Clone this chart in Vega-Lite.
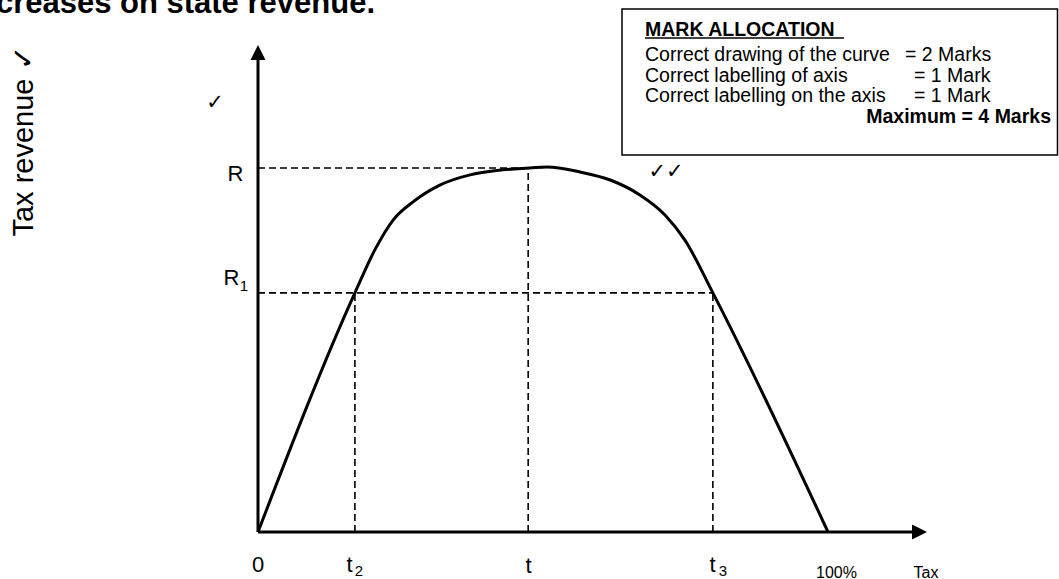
{
  "$schema": "https://vega.github.io/schema/vega-lite/v6.json",
  "width": 1059,
  "height": 579,
  "padding": 0,
  "autosize": {"type": "none"},
  "background": "white",
  "config": {"view": {"stroke": null}, "text": {"font": "Liberation Sans", "color": "black"}},
  "datasets": {
    "box": [{"x": 63.86, "x2": 140.26, "y": 143.68, "y2": 103.57}],
    "curve": [
      {"x": 0, "y": 0}, {"x": 17.0, "y": 65.7}, {"x": 20.5, "y": 77.5}, {"x": 23.7, "y": 85.7},
      {"x": 27.2, "y": 90.7}, {"x": 31.9, "y": 95.3}, {"x": 37.2, "y": 98.1}, {"x": 43.0, "y": 99.5},
      {"x": 47.7, "y": 100}, {"x": 50.7, "y": 100.3}, {"x": 56.5, "y": 98.9}, {"x": 61.8, "y": 96.7},
      {"x": 67.0, "y": 92.6}, {"x": 71.4, "y": 87.1}, {"x": 74.9, "y": 80.2}, {"x": 79.8, "y": 65.7},
      {"x": 100, "y": 0}
    ],
    "dashes": [
      {"x": 0, "x2": 47.4, "y": 100, "y2": 100},
      {"x": 47.4, "x2": 47.4, "y": 0, "y2": 100},
      {"x": 0, "x2": 79.8, "y": 65.7, "y2": 65.7},
      {"x": 17.0, "x2": 17.0, "y": 0, "y2": 65.7},
      {"x": 79.8, "x2": 79.8, "y": 0, "y2": 65.7}
    ],
    "axes": [
      {"x": 0, "x2": 0, "y": 0, "y2": 130.5},
      {"x": 0, "x2": 116.5, "y": 0, "y2": 0}
    ],
    "arrowUp": [{"x": 0, "y": 131.73}],
    "arrowRight": [{"x": 116.05, "y": 0}],
    "underline": [{"x": 67.895, "x2": 102.8, "y": 135.714, "y2": 135.714}],
    "mainLabels": [
      {"x": 0, "y": -9.066, "text": "0"},
      {"x": 16.053, "y": -9.066, "text": "t"},
      {"x": 47.456, "y": -9.478, "text": "t"},
      {"x": 79.737, "y": -9.066, "text": "t"},
      {"x": -3.947, "y": 98.352, "text": "R"},
      {"x": -4.649, "y": 69.643, "text": "R"}
    ],
    "subLabels": [
      {"x": 17.719, "y": -10.714, "text": "2"},
      {"x": 81.579, "y": -10.714, "text": "3"},
      {"x": -2.456, "y": 67.582, "text": "1"}
    ],
    "smallLabels": [
      {"x": 101.491, "y": -12.637, "text": "100%"},
      {"x": 117.193, "y": -12.637, "text": "Tax"}
    ],
    "title": [{"x": 20.526, "y": 142.582, "text": "creases on state revenue."}],
    "ylabel": [{"x": -39.474, "y": 107.28, "text": "Tax revenue ✓"}],
    "checks": [
      {"x": -7.544, "y": 117.857, "text": "✓"},
      {"x": 71.579, "y": 98.901, "text": "✓✓"}
    ],
    "boxHead": [{"x": 67.895, "y": 137.912, "text": "MARK ALLOCATION"}],
    "boxLines": [
      {"x": 67.895, "y": 131.044, "text": "Correct drawing of the curve"},
      {"x": 113.509, "y": 131.044, "text": "= 2 Marks"},
      {"x": 67.895, "y": 125.412, "text": "Correct labelling of axis"},
      {"x": 115.088, "y": 125.412, "text": "= 1 Mark"},
      {"x": 67.895, "y": 119.78, "text": "Correct labelling on the axis"},
      {"x": 115.088, "y": 119.78, "text": "= 1 Mark"}
    ],
    "boxMax": [{"x": 139.123, "y": 114.148, "text": "Maximum = 4 Marks"}]
  },
  "encoding": {
    "x": {"field": "x", "type": "quantitative", "axis": null, "scale": {"domain": [-45.2632, 140.5263], "nice": false, "zero": false}},
    "y": {"field": "y", "type": "quantitative", "axis": null, "scale": {"domain": [-12.9121, 146.1538], "nice": false, "zero": false}}
  },
  "layer": [
    {"data": {"name": "box"}, "mark": {"type": "rect", "fill": "white", "stroke": "black", "strokeWidth": 1.5},
     "encoding": {"x2": {"field": "x2"}, "y2": {"field": "y2"}}},
    {"data": {"name": "dashes"}, "mark": {"type": "rule", "color": "black", "strokeWidth": 1.6, "strokeDash": [7, 4]},
     "encoding": {"x2": {"field": "x2"}, "y2": {"field": "y2"}}},
    {"data": {"name": "curve"}, "mark": {"type": "line", "color": "black", "strokeWidth": 3, "interpolate": "monotone"},
     "encoding": {}},
    {"data": {"name": "axes"}, "mark": {"type": "rule", "color": "black", "strokeWidth": 3},
     "encoding": {"x2": {"field": "x2"}, "y2": {"field": "y2"}}},
    {"data": {"name": "arrowUp"}, "mark": {"type": "point", "shape": "M0,-1L1,1L-1,1Z", "size": 225, "filled": true, "color": "black", "opacity": 1, "strokeWidth": 0}},
    {"data": {"name": "arrowRight"}, "mark": {"type": "point", "shape": "M1,0L-1,-1L-1,1Z", "size": 225, "filled": true, "color": "black", "opacity": 1, "strokeWidth": 0}},
    {"data": {"name": "underline"}, "mark": {"type": "rule", "color": "black", "strokeWidth": 1.5},
     "encoding": {"x2": {"field": "x2"}, "y2": {"field": "y2"}}},
    {"data": {"name": "mainLabels"}, "mark": {"type": "text", "fontSize": 22, "align": "center", "baseline": "middle"},
     "encoding": {"text": {"field": "text"}}},
    {"data": {"name": "subLabels"}, "mark": {"type": "text", "fontSize": 15, "align": "center", "baseline": "middle"},
     "encoding": {"text": {"field": "text"}}},
    {"data": {"name": "smallLabels"}, "mark": {"type": "text", "fontSize": 16, "align": "center", "baseline": "alphabetic"},
     "encoding": {"text": {"field": "text"}}},
    {"data": {"name": "title"}, "mark": {"type": "text", "fontSize": 31, "fontWeight": "bold", "align": "right", "baseline": "alphabetic"},
     "encoding": {"text": {"field": "text"}}},
    {"data": {"name": "ylabel"}, "mark": {"type": "text", "fontSize": 29, "angle": 270, "align": "center", "baseline": "alphabetic"},
     "encoding": {"text": {"field": "text"}}},
    {"data": {"name": "checks"}, "mark": {"type": "text", "fontSize": 21, "font": "DejaVu Sans", "align": "center", "baseline": "middle"},
     "encoding": {"text": {"field": "text"}}},
    {"data": {"name": "boxHead"}, "mark": {"type": "text", "fontSize": 19.5, "fontWeight": "bold", "align": "left", "baseline": "middle"},
     "encoding": {"text": {"field": "text"}}},
    {"data": {"name": "boxLines"}, "mark": {"type": "text", "fontSize": 19.5, "align": "left", "baseline": "middle"},
     "encoding": {"text": {"field": "text"}}},
    {"data": {"name": "boxMax"}, "mark": {"type": "text", "fontSize": 19.5, "fontWeight": "bold", "align": "right", "baseline": "middle"},
     "encoding": {"text": {"field": "text"}}}
  ]
}
